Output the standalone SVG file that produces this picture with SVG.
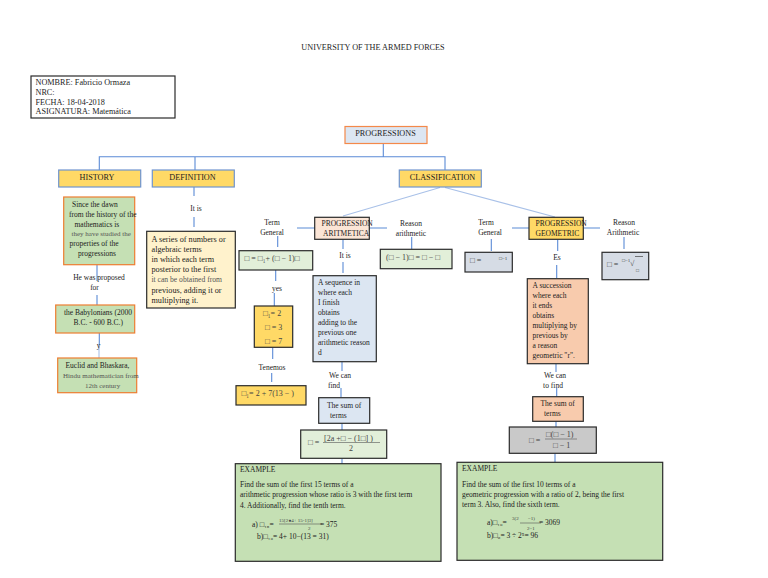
<svg xmlns="http://www.w3.org/2000/svg" width="768" height="578" viewBox="0 0 768 578">
<style>
text{font-family:"Liberation Serif","Times New Roman",serif;font-size:7.5px;fill:#1c1c1c}
.c{text-anchor:middle}
.l,.l text{font-size:8.2px}
.g{fill:#555;font-size:7px}
.g2{fill:#555;font-size:7.6px}
.s{font-size:5px;fill:#444}
.f{font-size:8px;fill:#444}
.k{stroke:#2a2a2a;stroke-width:1.2}
.o{stroke:#ed7d31;stroke-width:1.2}
.b{stroke:#6f94cf;stroke-width:1.2}
.o2{stroke:#f4894a;stroke-width:1.2}
.y{fill:#ffd966}
.gr{fill:#c5e0b4}
.lg{fill:#e2efd9}
.bl{fill:#dce6f2}
.pe{fill:#f8cbad}
.sl{fill:#d6dce5}
#connectors path{fill:none;stroke:#5b8bd6;stroke-width:1.1}
#connectors .t{stroke:#a9c1e8}
</style>
<rect width="768" height="578" fill="#fff"/>
<g id="title" class="l"><text class="c" x="373" y="50">UNIVERSITY OF THE ARMED FORCES</text></g>
<g id="connectors">
<path d="M383.300 144V156.700M99.300 170V156.700H445V170M195 156.700V170"/>
<path class="t" d="M440 187.500L343 216M445 187.500L555 217"/>
<path d="M194 187V196M194 217V227"/>
<path d="M97 265V281M97 295V305M99.300 333V345"/><path class="t" d="M99 345V358"/>
<path d="M297 228H315M277.700 236V247M369 228H387M411.700 237V249"/>
<path d="M275.700 270V281M274.300 293V306M272.700 347.500V359M271.700 373V382"/>
<path d="M343 239.500V249M343 262V273M342 362V371M341 388V397M342 423.500V430M342 458.500V464"/>
<path d="M512 228H529M491.300 239V251M583.500 228H600M624 237V249"/>
<path d="M557.700 239.500V251M556.700 265V278M556 364V372M556.700 388V396.500M556 421.500V427M555 453.500V462"/>
</g>
<g id="info" class="l"><rect x="31" y="76" width="144" height="42" fill="#fff" class="k"/>
<text x="35.500" y="85">NOMBRE: Fabricio Ormaza</text><text x="35.500" y="95">NRC:</text><text x="35.500" y="104.500">FECHA: 18-04-2018</text><text x="35.500" y="113.500">ASIGNATURA: Matemática</text></g>
<g id="progressions" class="l"><rect x="345" y="126.500" width="82" height="17" class="bl o2"/><text class="c" x="385.500" y="136">PROGRESSIONS</text></g>
<g id="history" class="l"><rect x="58.700" y="170" width="82" height="17" class="y b"/><text class="c" x="97" y="179.500">HISTORY</text></g>
<g id="definition" class="l"><rect x="152.300" y="170" width="82" height="17" class="y b"/><text class="c" x="192.500" y="179.500">DEFINITION</text></g>
<g id="classification" class="l"><rect x="399.300" y="170" width="82" height="17" class="y b"/><text class="c" x="442.500" y="179.500">CLASSIFICATION</text></g>
<g id="history-text"><rect x="63.700" y="197" width="71" height="67.700" class="gr o"/>
<text x="72" y="206.500">Since the dawn</text><text x="69" y="216.500">from the history of the</text><text x="74.500" y="226.500">mathematics is</text><text class="g" x="71.500" y="236">they have studied the</text><text x="69.500" y="246">properties of the</text><text x="78" y="256">progressions</text></g>
<g id="proposed"><text class="c" x="99" y="280">He was proposed</text><text class="c" x="94.500" y="290">for</text></g>
<g id="babylonians"><rect x="55.700" y="305" width="79" height="28" class="gr o"/><text x="64" y="314.500">the Babylonians (2000</text><text x="73.500" y="324.500">B.C. - 600 B.C.)</text></g>
<g id="y-label"><text class="c" x="98.500" y="347.500">y</text></g>
<g id="euclid"><rect x="57.700" y="358" width="79" height="34.700" class="gr o"/><text x="65.500" y="368">Euclid and Bhaskara,</text><text class="g" x="63" y="377.500">Hindu mathematician from</text><text class="g" x="85" y="387.500">12th century</text></g>
<g id="it-is-def"><text class="c" x="196" y="211">It is</text></g>
<g id="def-text" class="l"><rect x="146.700" y="231.300" width="88.600" height="76.700" fill="#fff2cc" class="k"/>
<text x="151.500" y="241.500">A series of numbers or</text><text x="151.500" y="251.500">algebraic terms</text><text x="151.500" y="261.500">in which each term</text><text x="151.500" y="271.500">posterior to the first</text><text class="g2" x="151.500" y="281.500" style="font-size:7.6px">it can be obtained from</text><text x="151.500" y="292.500">previous, adding it or</text><text x="151.500" y="302.500">multiplying it.</text></g>
<g id="term-general-a"><text class="c" x="272" y="225">Term</text><text class="c" x="272" y="235">General</text></g>
<g id="aritmetica"><rect x="314.700" y="217.300" width="54.600" height="22" fill="#fbe5d6" class="k"/><text x="321.500" y="225.500">PROGRESSION</text><text x="323" y="235.500">ARITMETICA</text></g>
<g id="reason-a"><text class="c" x="411" y="226">Reason</text><text class="c" x="411" y="236">arithmetic</text></g>
<g id="general-a"><rect x="239" y="250.700" width="73.700" height="19.300" class="lg k"/><text class="f" x="244.500" y="260.500">□ = □₁+ (□ − 1)□</text></g>
<g id="reason-a-f"><rect x="380.300" y="249.300" width="71.700" height="19.400" class="lg k"/><text class="f" x="386" y="259.500">(□ − 1)□ = □ − □</text></g>
<g id="yes"><text class="c" x="277" y="291">yes</text></g>
<g id="values"><rect x="254.300" y="306" width="38.400" height="41.300" class="y k"/><text class="f" x="263" y="316">□₁= 2</text><text class="f" x="265" y="330">□ = 3</text><text class="f" x="265" y="344">□ = 7</text></g>
<g id="tenemos"><text class="c" x="272" y="370">Tenemos</text></g>
<g id="subst"><rect x="236" y="385.700" width="70" height="19.300" class="y k"/><text class="f" x="241.500" y="395.500">□₁= 2 + 7(13 − )</text></g>
<g id="it-is-a"><text class="c" x="345" y="258">It is</text></g>
<g id="seq-a"><rect x="313" y="275.700" width="63.300" height="86" class="bl k"/>
<text x="318" y="284.500">A sequence in</text><text x="318" y="294.500">where each</text><text x="318" y="304.500">I finish</text><text x="318" y="314.500">obtains</text><text x="318" y="324.500">adding to the</text><text x="318" y="334.500">previous one</text><text x="318" y="344.500">arithmetic reason</text><text x="318" y="354.500">d</text></g>
<g id="find-a"><text class="c" x="340" y="378">We can</text><text class="c" x="334" y="388">find</text></g>
<g id="sum-a"><rect x="318.700" y="397.700" width="51" height="25.600" class="bl k"/><text x="327" y="407.500">The sum of</text><text x="330" y="418">terms</text></g>
<g id="sum-a-f"><rect x="300.700" y="430" width="86" height="28.300" class="lg k"/><text class="f" x="308" y="445">□ =</text><text class="f" x="324" y="440.500">[2a +□ − (1□] )</text><path d="M323 442.500H380" stroke="#555" stroke-width=".6"/><text class="f c" x="351" y="450.500">2</text></g>
<g id="example-a"><rect x="235.300" y="463.700" width="205.700" height="97.600" class="gr k"/>
<text x="240" y="471.500">EXAMPLE</text><text x="240" y="486.500">Find the sum of the first 15 terms of a</text><text x="240" y="497">arithmetic progression whose ratio is 3 with the first term</text><text x="240" y="507.500">4. Additionally, find the tenth term.</text>
<text x="252" y="526.500">a) □₁₅= </text><text class="s" x="279" y="522">15[2●4+ 15-1]3]</text><path d="M279 524H322" stroke="#555" stroke-width=".6"/><text class="s" x="308" y="530">2</text><text x="320" y="526.500">= 375</text>
<text x="257" y="538.500">b)□₁₀= 4+ 10−(13 = 31)</text></g>
<g id="term-general-g"><text class="c" x="486" y="225">Term</text><text class="c" x="490" y="235">General</text></g>
<g id="geometric"><rect x="529" y="217.300" width="54.300" height="22" class="y k"/><text x="535.500" y="225.500">PROGRESSION</text><text x="535.500" y="235.500">GEOMETRIC</text></g>
<g id="reason-g"><text class="c" x="624" y="225">Reason</text><text class="c" x="623" y="235">Arithmetic</text></g>
<g id="general-g"><rect x="465" y="252.300" width="47.300" height="19.700" class="sl k"/><text class="f" x="470" y="263">□ =</text><text class="s" x="499" y="260">□−1</text></g>
<g id="reason-g-f"><rect x="602" y="252.300" width="46.700" height="27.400" class="sl k"/><text class="f" x="607" y="267">□ =</text><text class="s" x="622" y="262">□−1</text><text class="f" x="630" y="266">√</text><path d="M635 256.500H643" stroke="#444" stroke-width=".7"/><text class="s" x="636" y="272">□</text></g>
<g id="es"><text class="c" x="557" y="260">Es</text></g>
<g id="seq-g"><rect x="527.300" y="278.700" width="61" height="85" class="pe k"/>
<text x="532.500" y="287.500">A succession</text><text x="532.500" y="297.500">where each</text><text x="532.500" y="307.500">it ends</text><text x="532.500" y="317.500">obtains</text><text x="532.500" y="327.500">multiplying by</text><text x="532.500" y="337.500">previous by</text><text x="532.500" y="347.500">a reason</text><text x="532.500" y="357.500">geometric "r".</text></g>
<g id="find-g"><text class="c" x="555" y="378">We can</text><text class="c" x="553" y="388">to find</text></g>
<g id="sum-g"><rect x="532.700" y="396.700" width="50.600" height="24.600" class="pe k"/><text x="540.500" y="405.500">The sum of</text><text x="544" y="416">terms</text></g>
<g id="sum-g-f"><rect x="509.300" y="427" width="87" height="26.300" fill="#c9c9c9" class="k"/><text class="f" x="529" y="442.500">□ =</text><text class="f" x="546" y="436.500">□(□ − 1)</text><path d="M545 439H577" stroke="#555" stroke-width=".6"/><text class="f" x="553" y="448">□ − 1</text></g>
<g id="example-g"><rect x="457" y="462.300" width="205.700" height="98" class="gr k"/>
<text x="462" y="470.500">EXAMPLE</text><text x="462" y="486.500">Find the sum of the first 10 terms of a</text><text x="462" y="496.500">geometric progression with a ratio of 2, being the first</text><text x="462" y="506.500">term 3. Also, find the sixth term.</text>
<text x="487" y="524.500">a)□₁₀= </text><text class="s" x="512" y="520">3(2</text><text class="s" x="528" y="520">−1)</text><path d="M520 523H541" stroke="#555" stroke-width=".6"/><text class="s" x="527" y="530">2−1</text><text x="539" y="524.500">= 3069</text>
<text x="487" y="537.500">b)□₆= 3 ÷ 2⁵= 96</text></g>
</svg>
